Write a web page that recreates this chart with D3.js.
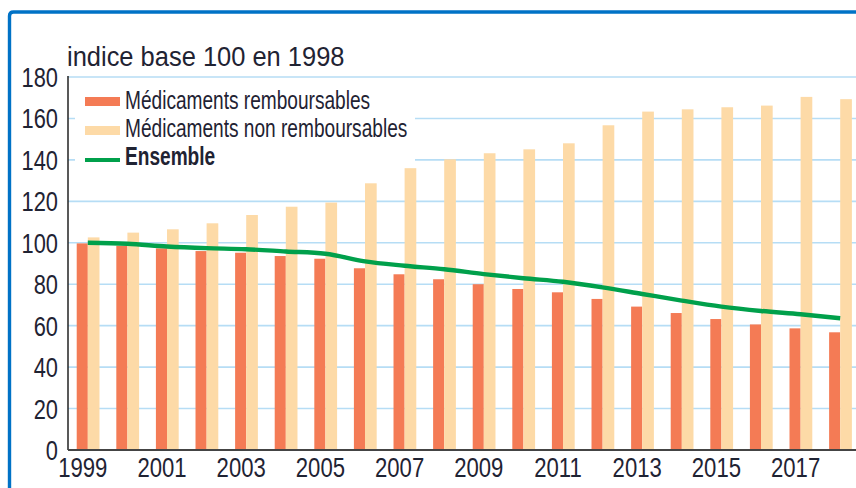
<!DOCTYPE html>
<html>
<head>
<meta charset="utf-8">
<script src="https://cdn.jsdelivr.net/npm/d3@7"></script>
<style>
  body { margin: 0; background: #fff; }
  text { font-family: "Liberation Sans", Arial, sans-serif; fill: #1f2333; }
</style>
</head>
<body>
<svg id="chart" width="856" height="488"></svg>
<script>
// data
const years = d3.range(1999, 2019)
const remboursables = [99.7, 98.6, 97.3, 96, 95.2, 93.6, 92.3, 87.7, 84.8, 82.4, 80, 77.7, 76.1, 72.9, 69.2, 66.1, 63.2, 60.6, 58.7, 56.8]
const nonRemboursables = [102.6, 104.9, 106.5, 109.4, 113.4, 117.4, 119.4, 128.7, 136, 140.3, 143.2, 145.1, 148, 156.7, 163.3, 164.4, 165.4, 166.2, 170.4, 169.3]
const ensemble = [100, 99.5, 98.2, 97.4, 96.9, 95.8, 94.7, 91, 88.9, 87.2, 84.9, 82.9, 81.2, 78.5, 75.3, 72.1, 69.2, 67.1, 65.5, 63.6]
const yTicks = [0, 20, 40, 60, 80, 100, 120, 140, 160, 180]
const xLabels = [1999, 2001, 2003, 2005, 2007, 2009, 2011, 2013, 2015, 2017]
const legendItems = ['Médicaments remboursables', 'Médicaments non remboursables', 'Ensemble']

const red = '#f47b55'
const beige = '#fddaa7'
const green = '#00a04b'
const gridBlue = '#b6ddf5'
const frameBlue = '#0072c6'

const svg = d3.select('#chart')

let plotLeft = 68, plotRight = 860, plotTop = 77, plotBottom = 450

let x = d3.scaleBand().domain(years).range([plotLeft, plotRight]).paddingInner(0.44).paddingOuter(0.22)
let y = d3.scaleLinear().domain([0, 180]).range([plotBottom, plotTop])

// blue frame
svg.append('path')
  .attr('d', 'M9.5,492 L9.5,16 Q9.5,12 13.5,12 L860,12')
  .attr('fill', 'none')
  .attr('stroke', frameBlue)
  .attr('stroke-width', 3.4)

// grid
svg.append('g')
  .selectAll('line')
  .data(yTicks.filter(d => d > 0))
  .enter().append('line')
  .attr('x1', plotLeft).attr('x2', 856)
  .attr('y1', d => y(d)).attr('y2', d => y(d))
  .attr('stroke', gridBlue)
  .attr('stroke-width', 1.6)

// legend background hides part of the grid
svg.append('rect')
  .attr('x', 75).attr('y', 82).attr('width', 340).attr('height', 90)
  .attr('fill', '#fff')

let bw = x.bandwidth() / 2

svg.append('g')
  .selectAll('rect')
  .data(years)
  .enter().append('rect')
  .attr('x', d => x(d))
  .attr('y', (d, i) => y(remboursables[i]))
  .attr('width', bw)
  .attr('height', (d, i) => plotBottom - y(remboursables[i]))
  .attr('fill', red)

svg.append('g')
  .selectAll('rect')
  .data(years)
  .enter().append('rect')
  .attr('x', d => x(d) + bw)
  .attr('y', (d, i) => y(nonRemboursables[i]))
  .attr('width', bw + 0.6)
  .attr('height', (d, i) => plotBottom - y(nonRemboursables[i]))
  .attr('fill', beige)

let line = d3.line()
  .x((d, i) => x(years[i]) + x.bandwidth() / 2)
  .y(d => y(d))
  .curve(d3.curveMonotoneX)

svg.append('path')
  .datum(ensemble)
  .attr('d', line)
  .attr('fill', 'none')
  .attr('stroke', green)
  .attr('stroke-width', 4.4)
  .attr('stroke-linecap', 'butt')

// axes lines
svg.append('line')
  .attr('x1', plotLeft).attr('x2', plotLeft).attr('y1', plotTop - 1).attr('y2', plotBottom)
  .attr('stroke', '#222').attr('stroke-width', 1.5)
svg.append('line')
  .attr('x1', plotLeft).attr('x2', 856).attr('y1', plotBottom).attr('y2', plotBottom)
  .attr('stroke', '#444').attr('stroke-width', 2)

// y tick labels
svg.append('g')
  .selectAll('text')
  .data(yTicks)
  .enter().append('text')
  .attr('transform', d => `translate(58,${y(d) + 10}) scale(0.78,1)`)
  .attr('text-anchor', 'end')
  .attr('font-size', 28)
  .text(d => d)

// x tick labels
svg.append('g')
  .selectAll('text')
  .data(xLabels)
  .enter().append('text')
  .attr('transform', d => `translate(${x(d) + x.bandwidth() / 2 - 5},477) scale(0.79,1)`)
  .attr('text-anchor', 'middle')
  .attr('font-size', 28)
  .text(d => d)

// title
svg.append('text')
  .attr('transform', 'translate(67,66) scale(0.91,1)')
  .attr('font-size', 28)
  .text('indice base 100 en 1998')

// legend
let lg = svg.append('g')
lg.append('rect').attr('x', 85).attr('y', 97).attr('width', 35).attr('height', 9).attr('fill', red)
lg.append('rect').attr('x', 85).attr('y', 126).attr('width', 35).attr('height', 9).attr('fill', beige)
lg.append('rect').attr('x', 85).attr('y', 158).attr('width', 35).attr('height', 4).attr('fill', green)

lg.selectAll('text')
  .data(legendItems)
  .enter().append('text')
  .attr('transform', (d, i) => `translate(125,${109 + i * 28}) scale(0.735,1)`)
  .attr('font-size', 26)
  .attr('font-weight', (d, i) => i == 2 ? 'bold' : 'normal')
  .text(d => d)
</script>
</body>
</html>
